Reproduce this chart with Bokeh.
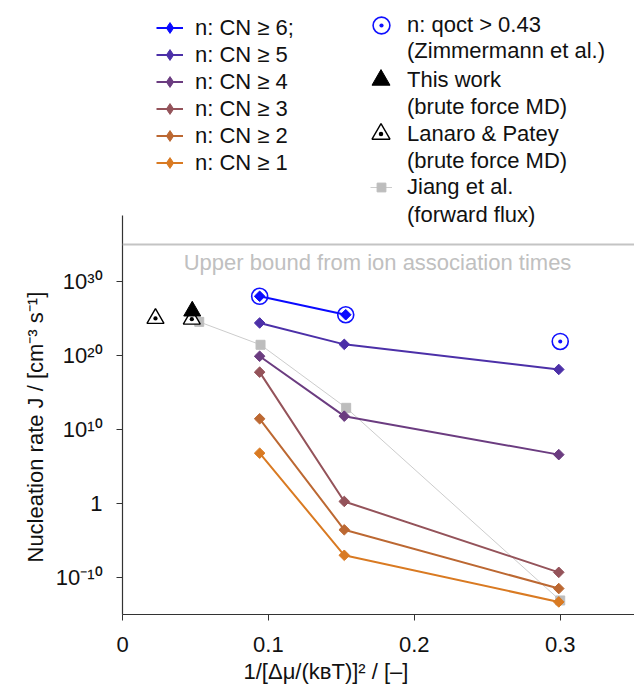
import numpy as np
from bokeh.plotting import figure
from bokeh.models import (Legend, LegendItem, Span, Label, FixedTicker,
                          CustomJSTickFormatter, Range1d, Title)
from bokeh.embed import file_html
from bokeh.resources import INLINE

FONT = "Liberation Sans"

# ---------------- data ----------------
x_cn = [0.094, 0.152, 0.299]
x_cn6 = [0.094, 0.153]
J_cn6 = [1.0e28, 3.2e25]
J_cn5 = [2.5e24, 3.2e21, 1.3e18]
J_cn4 = [7.9e19, 6.3e11, 4.0e6]
J_cn3 = [5.6e17, 1.9, 5.0e-10]
J_cn2 = [2.8e11, 2.8e-4, 3.2e-12]
J_cn1 = [6.3e6, 1.0e-7, 5.0e-14]

x_qoct = [0.094, 0.153, 0.300]
J_qoct = [1.0e28, 3.2e25, 7.9e21]

x_this = [0.0478]
J_this = [1.0e26]

x_lanaro = [0.0226, 0.0475]
J_lanaro = [1.0e25, 7.9e24]

x_jiang = [0.0526, 0.0946, 0.1533, 0.300]
J_jiang = [3.5e24, 2.8e21, 8.5e12, 7.9e-14]

J_upper = 1e35

y_ticks = [1e-10, 1, 1e10, 1e20, 1e30]
x_ticks = [0, 0.1, 0.2, 0.3]

cn_labels = ["n: CN ≥ 6;", "n: CN ≥ 5", "n: CN ≥ 4", "n: CN ≥ 3", "n: CN ≥ 2", "n: CN ≥ 1"]
cn_colors = ["#0a0aff", "#4c30a8", "#6b3c80", "#94535a", "#bc6832", "#d97a22"]

# axis extents
X_MAX = 0.3509
Y_MIN = 1e-15
Y_AXIS_TOP = 10 ** 38.9      # where the drawn y-axis ends
Y_FRAME_TOP = 10 ** 67.97    # frame extends up to hold the legends

# ---------------- figure ----------------
p = figure(width=634, height=690, output_backend="svg", toolbar_location=None,
           x_range=Range1d(0, X_MAX), y_range=Range1d(Y_MIN, Y_FRAME_TOP),
           y_axis_type="log",
           min_border_left=122, min_border_right=0, min_border_top=0, min_border_bottom=76)
p.outline_line_color = None
p.grid.visible = False
p.background_fill_color = "white"
p.border_fill_color = "white"

AX = "#333333"
for ax in (p.xaxis[0], p.yaxis[0]):
    ax.axis_line_color = AX
    ax.axis_line_width = 1.2
    ax.major_tick_line_color = AX
    ax.major_tick_out = 6
    ax.major_tick_in = 0
    ax.minor_tick_out = 0
    ax.minor_tick_in = 0
    ax.major_label_text_font = FONT
    ax.major_label_text_font_size = "22px"
    ax.major_label_text_color = "#111111"

p.xaxis.ticker = FixedTicker(ticks=x_ticks, minor_ticks=[])
p.xaxis.major_label_standoff = 16
p.xaxis.formatter = CustomJSTickFormatter(code="return tick == 0 ? '0' : tick.toFixed(1);")

p.yaxis.bounds = (Y_MIN, Y_AXIS_TOP)
p.yaxis.ticker = FixedTicker(ticks=y_ticks, minor_ticks=[])
p.yaxis.major_label_standoff = 14
p.yaxis.formatter = CustomJSTickFormatter(code="""
const e = Math.round(Math.log10(tick));
if (e == 0) return '1';
const sup = {'0':'⁰','1':'¹','2':'²','3':'³','4':'⁴','5':'⁵','6':'⁶','7':'⁷','8':'⁸','9':'⁹','-':'⁻'};
return '10' + String(e).split('').map(c => sup[c]).join('');
""")

# axis titles (placed as in the reference)
xt = Title(text="1/[Δμ/(kʙT)]² / [–]", align="left", offset=121, standoff=4,
           text_font=FONT, text_font_size="22px", text_font_style="normal",
           text_color="#111111")
p.add_layout(xt, "below")
yt = Title(text="Nucleation rate  J / [cm⁻³ s⁻¹]", align="left", offset=52, standoff=10,
           text_font=FONT, text_font_size="22px", text_font_style="normal",
           text_color="#111111")
p.add_layout(yt, "left")

# upper bound line
p.add_layout(Span(location=J_upper, dimension="width", line_color="#c4c4c4", line_width=2))
p.add_layout(Label(x=0.1748, y=10 ** 32.6, text="Upper bound from ion association times",
                   text_font=FONT, text_font_size="22px", text_color="#c0c0c0",
                   text_align="center", text_baseline="middle"))

# Jiang et al. (thin grey line with squares)
r_jl = p.line(x_jiang, J_jiang, line_color="#cccccc", line_width=1)
r_js = p.scatter(x_jiang, J_jiang, marker="square", size=9, fill_color="#bdbdbd",
                 line_color="#bdbdbd")

# CN series
xs_all = [x_cn6, x_cn, x_cn, x_cn, x_cn, x_cn]
Js_all = [J_cn6, J_cn5, J_cn4, J_cn3, J_cn2, J_cn1]
cn_items = []
for lab, col, xs, Js in reversed(list(zip(cn_labels, cn_colors, xs_all, Js_all))):
    rl = p.line(xs, Js, line_color=col, line_width=2)
    p.scatter(xs, Js, marker="square", angle=np.pi / 4, size=7.5,
              fill_color=col, line_color=col)
    # legend key only (hidden in the plot): legend keys are drawn unrotated,
    # so use a diamond marker for the key
    key = p.scatter(xs, Js, marker="diamond", fill_color=col, line_color=col,
                    visible=False)
    cn_items.append(LegendItem(label=lab, renderers=[rl, key]))
cn_items = cn_items[::-1]

# q_oct circles
r_q = p.scatter(x_qoct, J_qoct, marker="circle_dot", size=16, fill_color=None,
                line_color="#1010ff", line_width=1.6)

# Lanaro & Patey (open triangles)
r_lp = p.scatter(x_lanaro, J_lanaro, marker="triangle_dot", size=17, fill_color="white",
                 line_color="black", line_width=1.4)
# This work (filled triangle)
r_tw = p.scatter(x_this, J_this, marker="triangle", size=17, fill_color="black",
                 line_color="black")

FRAME_H = 614  # px, used only to place legends measured from the top of the frame


def make_legend(items, glyph, left_px, first_center_px, label_x_px, glyph_h=None):
    """Legend whose first text line is centred at first_center_px (from top)."""
    gh = glyph if glyph_h is None else glyph_h
    lg = Legend(items=items)
    lg.label_text_font = FONT
    lg.label_text_font_size = "22px"
    lg.label_text_color = "#111111"
    lg.border_line_color = None
    lg.background_fill_alpha = 0
    lg.inactive_fill_alpha = 0
    lg.padding = 0
    lg.margin = 0
    row = max(gh, 25)
    sp = max(27 - row, 0)
    lg.glyph_width = glyph
    lg.glyph_height = gh
    lg.label_height = 25
    lg.spacing = sp
    lg.label_standoff = int(round(label_x_px - (left_px + glyph)))
    n = len(items)
    height = n * row + (n - 1) * sp
    top = first_center_px - row / 2
    lg.location = (int(round(left_px - 122)), int(round(FRAME_H - top - height)))
    p.add_layout(lg, "center")
    return lg


make_legend(cn_items, 27, 155.5, 27, 195)

make_legend([LegendItem(label="n: qoct > 0.43", renderers=[r_q])], 42, 360, 25, 407)
make_legend([LegendItem(label="(Zimmermann et al.)", renderers=[])], 1, 405, 51, 407, glyph_h=25)
make_legend([LegendItem(label="This work", renderers=[r_tw])], 45, 358.5, 80, 407)
make_legend([LegendItem(label="(brute force MD)", renderers=[])], 1, 405, 107, 407, glyph_h=25)
make_legend([LegendItem(label="Lanaro & Patey", renderers=[r_lp])], 45, 358.5, 134, 407)
make_legend([LegendItem(label="(brute force MD)", renderers=[])], 1, 405, 161, 407, glyph_h=25)
make_legend([LegendItem(label="Jiang et al.", renderers=[r_jl, r_js])], 22, 370, 188, 407)
make_legend([LegendItem(label="(forward flux)", renderers=[])], 1, 405, 215, 407, glyph_h=25)

open("out.html", "w").write(file_html(p, INLINE))
